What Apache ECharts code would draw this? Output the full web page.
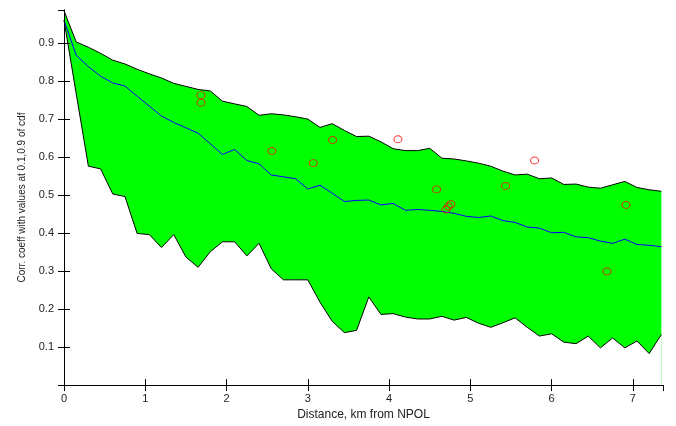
<!DOCTYPE html>
<html>
<head>
<meta charset="utf-8">
<script src="https://cdn.jsdelivr.net/npm/echarts@6/dist/echarts.min.js"></script>
<style>
  html, body { margin: 0; padding: 0; background: #fff; }
  #main { width: 676px; height: 426px; }
</style>
</head>
<body>
<div id="main"></div>
<script>
// distance grid, km from NPOL
var dist = [0, 0.15, 0.3, 0.45, 0.6, 0.75, 0.9, 1.05, 1.2, 1.35,
  1.5, 1.65, 1.8, 1.95, 2.1, 2.25, 2.4, 2.55, 2.7, 2.85,
  3, 3.15, 3.3, 3.45, 3.6, 3.75, 3.9, 4.05, 4.2, 4.35,
  4.5, 4.65, 4.8, 4.95, 5.1, 5.25, 5.4, 5.55, 5.7, 5.85,
  6, 6.15, 6.3, 6.45, 6.6, 6.75, 6.9, 7.05, 7.2, 7.35];
// 0.9 quantile (upper edge of band)
var upper = [0.985, 0.903, 0.889, 0.873, 0.855, 0.845, 0.831, 0.819, 0.808, 0.794,
  0.786, 0.778, 0.774, 0.747, 0.740, 0.733, 0.710, 0.714, 0.711, 0.706,
  0.700, 0.678, 0.688, 0.670, 0.654, 0.655, 0.640, 0.622, 0.617, 0.617,
  0.623, 0.597, 0.595, 0.590, 0.584, 0.576, 0.563, 0.553, 0.555, 0.543,
  0.545, 0.528, 0.529, 0.521, 0.518, 0.527, 0.536, 0.520, 0.514, 0.510];
// median (blue)
var median = [0.960, 0.868, 0.838, 0.813, 0.795, 0.787, 0.760, 0.734, 0.708, 0.691,
  0.677, 0.663, 0.635, 0.607, 0.620, 0.591, 0.582, 0.553, 0.548, 0.543,
  0.516, 0.526, 0.505, 0.483, 0.486, 0.487, 0.474, 0.478, 0.460, 0.462,
  0.460, 0.457, 0.452, 0.444, 0.441, 0.445, 0.433, 0.428, 0.416, 0.413,
  0.401, 0.402, 0.390, 0.388, 0.379, 0.373, 0.384, 0.370, 0.368, 0.364];
// 0.1 quantile (lower edge of band)
var lower = [0.960, 0.767, 0.576, 0.569, 0.503, 0.496, 0.399, 0.396, 0.362, 0.396,
  0.337, 0.310, 0.351, 0.377, 0.377, 0.340, 0.373, 0.306, 0.277, 0.277,
  0.277, 0.218, 0.168, 0.138, 0.144, 0.232, 0.186, 0.188, 0.179, 0.174,
  0.174, 0.181, 0.171, 0.178, 0.163, 0.152, 0.164, 0.177, 0.152, 0.129,
  0.135, 0.113, 0.109, 0.129, 0.098, 0.124, 0.098, 0.116, 0.083, 0.133];
// observed points (red circles)
var obsDist = [1.685, 1.685, 2.558, 3.067, 3.305, 4.109, 4.584, 4.70, 4.73, 4.76, 5.433, 5.79, 6.681, 6.915];
var obsCorr = [0.763, 0.743, 0.616, 0.584, 0.645, 0.647, 0.515, 0.462, 0.470, 0.476, 0.524, 0.591, 0.299, 0.474];

var font = 'Liberation Sans, Arial, Helvetica, sans-serif';

var upperData = dist.map(function (d, i) { return [d, upper[i]]; });
var lowerData = dist.map(function (d, i) { return [d, lower[i]]; });
var medData = dist.map(function (d, i) { return [d, median[i]]; });
var obsData = obsDist.map(function (d, i) { return [d, obsCorr[i]]; });

var myChart = echarts.init(document.getElementById('main'));
var axisCommon = {
  type: 'value',
  z: 10,
  axisLine: { show: true, lineStyle: { color: '#000', width: 1 } },
  axisTick: { show: true, inside: true, length: 6, lineStyle: { color: '#000' } },
  splitLine: { show: false }
};
var option = {
  animation: false,
  backgroundColor: '#fff',
  grid: { left: 64, right: 13, top: 10, bottom: 38 },
  xAxis: [
    Object.assign({}, axisCommon, {
      min: 0, max: 7.37, interval: 1,
      name: 'Distance, km from NPOL',
      nameLocation: 'middle',
      nameGap: 20,
      nameTextStyle: { fontFamily: font, fontSize: 12, color: '#222' },
      axisLabel: { fontFamily: font, fontSize: 11, color: '#222', margin: 8, showMaxLabel: false }
    }),
    Object.assign({}, axisCommon, {
      position: 'top', min: 0, max: 7.37, interval: 1,
      axisLabel: { show: false }
    })
  ],
  yAxis: [
    Object.assign({}, axisCommon, {
      min: 0, max: 0.987, interval: 0.1,
      name: 'Corr. coeff with values at 0.1,0.9 of cdf',
      nameLocation: 'middle',
      nameGap: 37,
      nameTextStyle: { fontFamily: font, fontSize: 10, color: '#222' },
      axisLabel: {
        fontFamily: font, fontSize: 11, color: '#222', margin: 10,
        showMinLabel: false, showMaxLabel: false,
        formatter: function (v) { return v.toFixed(1); }
      }
    }),
    Object.assign({}, axisCommon, {
      position: 'right', min: 0, max: 0.987, interval: 0.1,
      axisLabel: { show: false }
    })
  ],
  series: [
    {
      // green fill from the upper edge down, outlined in black
      name: 'upper',
      type: 'line',
      data: upperData,
      showSymbol: false,
      lineStyle: { color: '#000', width: 1 },
      areaStyle: { color: '#00ff00', opacity: 1, origin: 'start' },
      z: 1
    },
    {
      // white fill below the lower edge cuts the band out
      name: 'lower',
      type: 'line',
      data: lowerData,
      showSymbol: false,
      lineStyle: { color: '#000', width: 1 },
      areaStyle: { color: '#ffffff', opacity: 1, origin: 'start' },
      z: 2
    },
    {
      name: 'median',
      type: 'line',
      data: medData,
      showSymbol: false,
      lineStyle: { color: '#0000ff', width: 1 },
      z: 3
    },
    {
      name: 'obs',
      type: 'scatter',
      data: obsData,
      symbol: 'circle',
      symbolSize: [8, 7],
      itemStyle: { color: 'rgba(0,0,0,0)', borderColor: '#ff0000', borderWidth: 1 },
      z: 4
    }
  ]
};
myChart.setOption(option);
</script>
</body>
</html>
